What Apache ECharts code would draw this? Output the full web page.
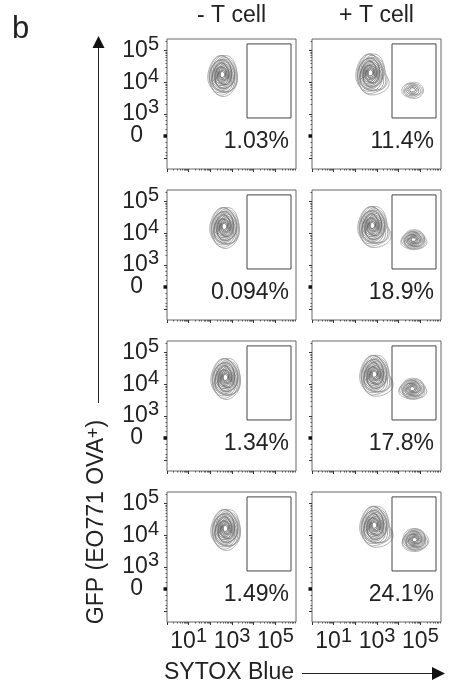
<!DOCTYPE html>
<html>
<head>
<meta charset="utf-8">
<script src="https://cdn.jsdelivr.net/npm/echarts@6/dist/echarts.min.js"></script>
<style>
  html, body { margin: 0; padding: 0; background: #fff; }
  #chart { width: 451px; height: 686px; }
</style>
</head>
<body>
<div id="chart"></div>
<script>
// columns: without / with T cells; rows: four replicates
const conditions = ['- T cell', '+ T cell']
const gatePercent = [
  ['1.03%', '11.4%'],
  ['0.094%', '18.9%'],
  ['1.34%', '17.8%'],
  ['1.49%', '24.1%']
]
// live tumour cells: [log10 SYTOX Blue, log10 GFP] per row, per column
const livePop = [
  [[2.58, 4.23], [2.72, 4.28]],
  [[2.67, 4.20], [2.81, 4.23]],
  [[2.72, 4.20], [2.90, 4.30]],
  [[2.72, 4.20], [2.90, 4.30]]
]
// spread of the live population (decades, x / y)
const liveSpread = [0.68, 0.64]
// dead (SYTOX+) cells, only with T cells: [log10 SYTOX, log10 GFP]
const deadPop = [
  [4.65, 3.76],
  [4.70, 3.80],
  [4.65, 3.86],
  [4.75, 3.86]
]
const deadSpread = [
  [0.50, 0.25],
  [0.58, 0.31],
  [0.62, 0.33],
  [0.60, 0.36]
]
const deadLevels = [6, 11, 11, 12]
// gate: SYTOX range (log10), GFP range (raw)
const gateX = [3.69, 5.72]
const gateY = [720, 160000]
// tick marks
const xMajorTicks = [0, 1, 2, 3, 4, 5]
const xLabelExp = [1, 3, 5]
const yMajorTicks = [-1000, 0, 1000, 10000, 100000]
const yLabelValues = [1000, 10000, 100000]
const yLabelText = ['3', '4', '5']

const FONT = 'Liberation Sans, Arial, sans-serif'
const W = 425
// biexponential-like display of GFP
function gfpAxis (v) {
  return Math.asinh(v / W) / Math.LN10
}
function gfpExp (e) {
  return gfpAxis(Math.pow(10, e))
}

const X_MAX = 5.95
const Y_MIN = -1.03
const Y_MAX = 3.03
const rowTop = [39, 190, 341, 492]
const colLeft = [167, 312]
const panelW = 129
const panelH = 130

// minor ticks
const xMinor = []
for (let d = 0; d < 6; d++) {
  for (let k = 2; k <= 9; k++) {
    const v = d + Math.log10(k)
    if (v < X_MAX) xMinor.push(v)
  }
}
const yMinor = []
;[-800, -600, -400, -200, 200, 400, 600, 800].forEach(v => yMinor.push(gfpAxis(v)))
;[1000, 10000, 100000].forEach(d => {
  for (let k = 2; k <= 9; k++) {
    const v = gfpAxis(k * d)
    if (v < Y_MAX) yMinor.push(v)
  }
})

const rich = {
  b: { fontSize: 23, lineHeight: 32, color: '#222', fontFamily: FONT },
  s: { fontSize: 20, lineHeight: 20, verticalAlign: 'top', color: '#222', fontFamily: FONT },
  z: { fontSize: 23, lineHeight: 32, color: '#222', fontFamily: FONT }
}

function renderPop (params, api) {
  const c = api.coord([api.value(0), api.value(1)])
  const sz = api.size([api.value(2), api.value(3)])
  const n = api.value(4)
  const tail = api.value(5)
  const rx = sz[0]
  const ry = sz[1]
  const egg = 0.12
  const core = [c[0] - 0.04 * rx, c[1] - 0.04 * ry]
  const children = []
  for (let k = n; k >= 1; k--) {
    const s = 0.08 + 0.92 * Math.pow(k / n, 0.9)
    const cx = core[0] + (c[0] - core[0]) * s
    const cy = core[1] + (c[1] - core[1]) * s
    const pts = []
    for (let j = 0; j < 64; j++) {
      const t = j / 64 * Math.PI * 2
      const ct = Math.cos(t)
      const st = Math.sin(t)
      let ex = ct * (1 + egg * st)
      if (ct > 0 && st > 0) ex += tail * Math.pow(s, 8) * 2.2 * ct * st
      const w = 1 + 0.035 * Math.sin(3 * t + k * 1.7) + 0.02 * Math.cos(5 * t + k)
      pts.push([cx + rx * s * ex * w, cy + ry * s * st * w])
    }
    const g = Math.round(160 - 115 * (1 - k / n))
    children.push({
      type: 'polygon',
      shape: { points: pts },
      style: { fill: 'none', stroke: 'rgb(' + g + ',' + g + ',' + g + ')', lineWidth: 0.8 }
    })
  }
  return { type: 'group', children: children }
}

const grid = []
const xAxis = []
const yAxis = []
const series = []

for (let r = 0; r < 4; r++) {
  for (let c = 0; c < 2; c++) {
    const i = grid.length
    grid.push({
      left: colLeft[c], top: rowTop[r], width: panelW, height: panelH,
      show: true, borderColor: '#666', borderWidth: 1, backgroundColor: 'transparent'
    })
    // x major
    xAxis.push({
      gridIndex: i, type: 'value', position: 'bottom', min: 0, max: X_MAX,
      axisLine: { show: false, onZero: false }, splitLine: { show: false },
      axisTick: { show: true, customValues: xMajorTicks, length: 3, lineStyle: { color: '#333' } },
      axisLabel: {
        show: r === 3, customValues: xLabelExp, margin: 4,
        formatter: v => '{b|10}{s|' + Math.round(v) + '}', rich: rich
      }
    })
    // x minor
    xAxis.push({
      gridIndex: i, type: 'value', position: 'bottom', min: 0, max: X_MAX,
      axisLine: { show: false, onZero: false }, splitLine: { show: false },
      axisTick: { show: true, customValues: xMinor, length: 1.5, lineStyle: { color: '#555' } },
      axisLabel: { show: false }
    })
    // y major
    yAxis.push({
      gridIndex: i, type: 'value', position: 'left', min: Y_MIN, max: Y_MAX,
      axisLine: { show: false, onZero: false }, splitLine: { show: false },
      axisTick: { show: true, customValues: yMajorTicks.map(gfpAxis), length: 3, lineStyle: { color: '#333' } },
      axisLabel: {
        show: c === 0, customValues: yLabelValues.map(gfpAxis), margin: 8,
        formatter: v => {
          let best = 0
          yLabelValues.forEach((lv, j) => {
            if (Math.abs(gfpAxis(lv) - v) < Math.abs(gfpAxis(yLabelValues[best]) - v)) best = j
          })
          return '{b|10}{s|' + yLabelText[best] + '}'
        },
        rich: rich
      }
    })
    // y minor
    yAxis.push({
      gridIndex: i, type: 'value', position: 'left', min: Y_MIN, max: Y_MAX,
      axisLine: { show: false, onZero: false }, splitLine: { show: false },
      axisTick: { show: true, customValues: yMinor, length: 1.5, lineStyle: { color: '#555' } },
      axisLabel: { show: false }
    })
    // thick zero mark with its "0" label
    yAxis.push({
      gridIndex: i, type: 'value', position: 'left', min: Y_MIN, max: Y_MAX,
      axisLine: { show: false, onZero: false }, splitLine: { show: false },
      axisTick: { show: true, customValues: [0.0001], length: 3.5, lineStyle: { color: '#111', width: 3.5 } },
      axisLabel: {
        show: c === 0, customValues: [0.0001], margin: 24,
        formatter: () => '{z|0}', rich: rich
      }
    })

    const pops = [[livePop[r][c][0], gfpExp(livePop[r][c][1]), liveSpread[0], liveSpread[1], 17, c === 1 ? 0.35 : 0]]
    if (c === 1) {
      pops.push([deadPop[r][0], gfpExp(deadPop[r][1]), deadSpread[r][0], deadSpread[r][1], deadLevels[r], 0])
    }
    series.push({
      type: 'custom', xAxisIndex: 2 * i, yAxisIndex: 3 * i,
      renderItem: renderPop, data: pops, silent: true
    })
    const pct = gatePercent[r][c]
    series.push({
      type: 'custom', xAxisIndex: 2 * i, yAxisIndex: 3 * i, silent: true,
      data: [[gateX[0], gateX[1], gfpAxis(gateY[0]), gfpAxis(gateY[1])]],
      renderItem: function (params, api) {
        const p0 = api.coord([api.value(0), api.value(3)])
        const p1 = api.coord([api.value(1), api.value(2)])
        const t = api.coord([api.value(1), -0.19])
        return {
          type: 'group',
          children: [
            {
              type: 'rect',
              shape: { x: p0[0], y: p0[1], width: p1[0] - p0[0], height: p1[1] - p0[1] },
              style: { fill: 'none', stroke: '#444', lineWidth: 1 }
            },
            {
              type: 'text',
              style: {
                x: t[0] - 2, y: t[1], text: pct, align: 'right', verticalAlign: 'middle',
                fontSize: 23, fontFamily: FONT, fill: '#222'
              }
            }
          ]
        }
      }
    })
  }
}

const graphic = [
  { type: 'text', left: 12, top: 14, style: { text: 'b', fontSize: 31, fontFamily: FONT, fill: '#222' } },
  // y arrow
  { type: 'line', shape: { x1: 98.5, y1: 46, x2: 98.5, y2: 403 }, style: { stroke: '#222', lineWidth: 1 } },
  { type: 'polygon', shape: { points: [[92.5, 48], [104.5, 48], [98.5, 36]] }, style: { fill: '#111' } },
  {
    type: 'text', x: 97, y: 522, rotation: Math.PI / 2,
    style: {
      text: 'GFP (EO771 OVA{s|+})', align: 'center', verticalAlign: 'middle',
      fontSize: 23, fontFamily: FONT, fill: '#222',
      rich: { s: { fontSize: 18, lineHeight: 18, verticalAlign: 'top', fontFamily: FONT, fill: '#222' } }
    }
  },
  // x arrow
  {
    type: 'text', x: 229, y: 673,
    style: { text: 'SYTOX Blue', align: 'center', verticalAlign: 'middle', fontSize: 23, fontFamily: FONT, fill: '#222' }
  },
  { type: 'line', shape: { x1: 302, y1: 673.5, x2: 435, y2: 673.5 }, style: { stroke: '#222', lineWidth: 1 } },
  { type: 'polygon', shape: { points: [[432, 667], [432, 680], [445, 673.5]] }, style: { fill: '#111' } }
]
conditions.forEach((name, c) => {
  graphic.push({
    type: 'text', x: colLeft[c] + panelW / 2, y: 16,
    style: { text: name, align: 'center', verticalAlign: 'middle', fontSize: 23, fontFamily: FONT, fill: '#222' }
  })
})

const myChart = echarts.init(document.getElementById('chart'))
myChart.setOption({
  animation: false,
  backgroundColor: '#fff',
  grid: grid,
  xAxis: xAxis,
  yAxis: yAxis,
  series: series,
  graphic: graphic
})
</script>
</body>
</html>
